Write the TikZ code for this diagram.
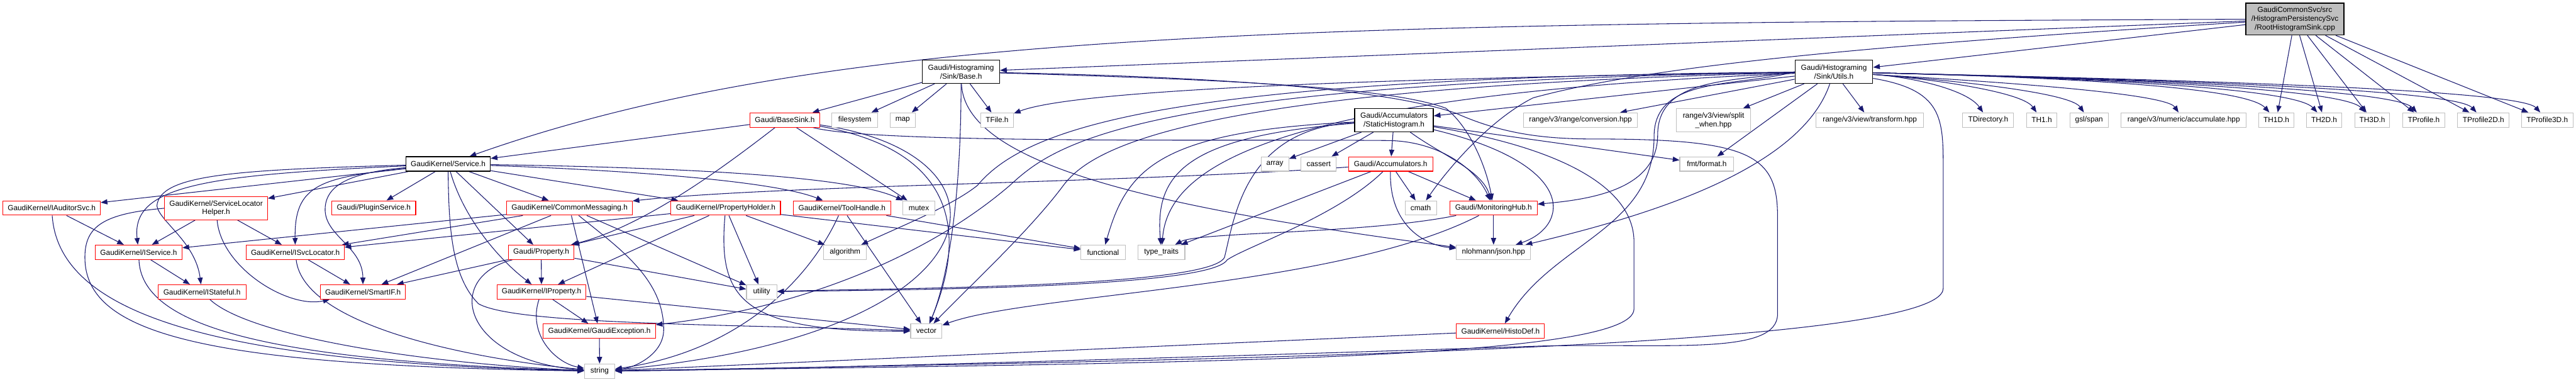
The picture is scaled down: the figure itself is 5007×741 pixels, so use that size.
\documentclass[tikz,border=0pt]{standalone}
\usepackage{fontspec}
\setmainfont{Liberation Sans}
\usetikzlibrary{arrows.meta}
\definecolor{edgec}{HTML}{191970}
\definecolor{grayb}{HTML}{BFBFBF}
\pgfdeclarelayer{bg}
\pgfsetlayers{bg,main}
\begin{document}
\begin{tikzpicture}[x=1pt,y=-1pt,
 nb/.style={draw, fill=white, inner sep=0pt, align=center, font=\fontsize{14.5}{17}\selectfont, minimum height=28pt},
 nblk/.style={nb, draw=black, line width=1.6pt},
 nred/.style={nb, draw=red, line width=1.3pt},
 ngray/.style={nb, draw=grayb, line width=1.3pt},
 nroot/.style={nb, draw=black, fill=grayb, line width=1.6pt},
 edg/.style={draw=edgec, line width=1.3pt, -{Triangle[length=13pt,width=10pt]}},
]
\useasboundingbox (0,0) rectangle (5007,741);
% row 1-2
\node[nroot, minimum width=191pt, minimum height=62pt] (root) at (4460.5,37) {GaudiCommonSvc/src\\/HistogramPersistencySvc\\/RootHistogramSink.cpp};
\node[nblk, minimum width=150pt, minimum height=45pt] (Base) at (1868,139.5) {Gaudi/Histograming\\/Sink/Base.h};
\node[nblk, minimum width=151pt, minimum height=45pt] (Utils) at (3564.5,139.5) {Gaudi/Histograming\\/Sink/Utils.h};
% row 3
\node[nred, minimum width=135pt] (BaseSink) at (1525.5,233) {Gaudi/BaseSink.h};
\node[ngray, minimum width=89pt] (filesystem) at (1661.5,233) {filesystem};
\node[ngray, minimum width=49pt] (map) at (1754.5,233) {map};
\node[ngray, minimum width=64pt] (TFile) at (1938,233) {TFile.h};
\node[nblk, minimum width=153pt, minimum height=45pt] (StaticHisto) at (2709.5,233.5) {Gaudi/Accumulators\\/StaticHistogram.h};
\node[ngray, minimum width=222pt] (conversion) at (3072,233) {range/v3/range/conversion.hpp};
\node[ngray, minimum width=145pt, minimum height=45pt] (splitwhen) at (3330.5,233.5) {range/v3/view/split\\\_when.hpp};
\node[ngray, minimum width=209pt] (transform) at (3634.5,233) {range/v3/view/transform.hpp};
\node[ngray, minimum width=99pt] (TDirectory) at (3864.5,233) {TDirectory.h};
\node[ngray, minimum width=59pt] (TH1) at (3968.5,233) {TH1.h};
\node[ngray, minimum width=75pt] (gslspan) at (4060.5,233) {gsl/span};
\node[ngray, minimum width=243pt] (accumulate) at (4244.5,233) {range/v3/numeric/accumulate.hpp};
\node[ngray, minimum width=69pt] (TH1D) at (4424.5,233) {TH1D.h};
\node[ngray, minimum width=69pt] (TH2D) at (4517.5,233) {TH2D.h};
\node[ngray, minimum width=68pt] (TH3D) at (4611,233) {TH3D.h};
\node[ngray, minimum width=82pt] (TProfile) at (4711,233) {TProfile.h};
\node[ngray, minimum width=100pt] (TProfile2D) at (4827,233) {TProfile2D.h};
\node[ngray, minimum width=100pt] (TProfile3D) at (4951,233) {TProfile3D.h};
% row 4
\node[nblk, minimum width=164pt] (Service) at (871,318.5) {GaudiKernel/Service.h};
\node[ngray, minimum width=54pt] (array) at (2478,318.5) {array};
\node[ngray, minimum width=68pt] (cassert) at (2563,318.5) {cassert};
\node[nred, minimum width=164pt] (Accum) at (2703,318.5) {Gaudi/Accumulators.h};
\node[ngray, minimum width=105pt] (fmt) at (3317.5,318.5) {fmt/format.h};
% row 5
\node[nred, minimum width=189pt] (IAuditorSvc) at (100.5,404) {GaudiKernel/IAuditorSvc.h};
\node[nred, minimum width=200pt, minimum height=45pt] (SLH) at (420,404.5) {GaudiKernel/ServiceLocator\\Helper.h};
\node[nred, minimum width=163pt] (PluginService) at (726.5,404) {Gaudi/PluginService.h};
\node[nred, minimum width=244pt] (CommonMsg) at (1107,404) {GaudiKernel/CommonMessaging.h};
\node[nred, minimum width=213pt] (PropHolder) at (1410.5,404) {GaudiKernel/PropertyHolder.h};
\node[nred, minimum width=189pt] (ToolHandle) at (1636.5,404) {GaudiKernel/ToolHandle.h};
\node[ngray, minimum width=62pt] (mutex) at (1786,404) {mutex};
\node[ngray, minimum width=61pt] (cmath) at (2761.5,404) {cmath};
\node[nred, minimum width=170pt] (MonHub) at (2903,404) {Gaudi/MonitoringHub.h};
% row 6
\node[nred, minimum width=169pt] (IService) at (269.5,490) {GaudiKernel/IService.h};
\node[nred, minimum width=190pt] (ISvcLocator) at (574,490) {GaudiKernel/ISvcLocator.h};
\node[nred, minimum width=128pt] (Property) at (1052,490) {Gaudi/Property.h};
\node[ngray, minimum width=83pt] (algorithm) at (1642.5,490) {algorithm};
\node[ngray, minimum width=86pt] (functional) at (2144,490) {functional};
\node[ngray, minimum width=91pt] (typetraits) at (2257.5,490) {type\_traits};
\node[ngray, minimum width=144pt] (json) at (2903,490) {nlohmann/json.hpp};
% row 7
\node[nred, minimum width=171pt] (IStateful) at (392.5,567) {GaudiKernel/IStateful.h};
\node[nred, minimum width=165pt] (SmartIF) at (705.5,567) {GaudiKernel/SmartIF.h};
\node[nred, minimum width=173pt] (IProperty) at (1052.5,567) {GaudiKernel/IProperty.h};
\node[ngray, minimum width=59pt] (utility) at (1480.5,567) {utility};
% row 8-9
\node[nred, minimum width=218pt] (GaudiExc) at (1165,643) {GaudiKernel/GaudiException.h};
\node[ngray, minimum width=61pt] (vector) at (1800.5,643) {vector};
\node[nred, minimum width=171pt] (HistoDef) at (2916.5,643) {GaudiKernel/HistoDef.h};
\node[ngray, minimum width=59pt] (string) at (1165.5,721) {string};

\begin{pgfonlayer}{bg}
% root
\draw[edg] (root) .. controls (2500,45) and (1600,60) .. (Service);
\draw[edg] (root) -- (Base);
\draw[edg] (root) -- (Utils);
\draw[edg] (root) .. controls (3600,90) and (3200,130) .. (2980,190) .. controls (2900,230) and (2820,320) .. (cmath);
\foreach \t/\tx in {TH1D/4424.5, TH2D/4517.5, TH3D/4611, TProfile/4711, TProfile2D/4827, TProfile3D/4951} {
  \draw[edg] (root) -- (\t);
  \draw[edg] (Utils) .. controls (4000,150) and ({\tx-60},168) .. (\t);
}
\foreach \t/\tx in {TDirectory/3864.5, TH1/3968.5, gslspan/4060.5, accumulate/4244.5}
  \draw[edg] (Utils) .. controls (3720,150) and ({\tx-40},175) .. (\t);
% Base.h
\draw[edg] (Base) -- (BaseSink);
\draw[edg] (Base) -- (filesystem);
\draw[edg] (Base) -- (map);
\draw[edg] (Base) -- (TFile);
\draw[edg] (Base) .. controls (1868,420) and (1835,560) .. (vector);
\draw[edg] (Base) .. controls (1875,330) and (2300,410) .. (json);
\draw[edg] (Base) .. controls (2400,155) and (2700,170) .. (2810,210) .. controls (2860,250) and (2890,330) .. (MonHub);
\draw[edg] (Base) .. controls (2400,150) and (2700,175) .. (2830,220) .. controls (2920,260) and (3000,270) .. (3100,270) .. controls (3400,270) and (3455,300) .. (3455,420) -- (3455,610) .. controls (3455,690) and (3250,667) .. (3000,672) .. controls (2300,695) and (1500,718) .. (string);
% Utils.h
\draw[edg] (Utils) -- (StaticHisto);
\draw[edg] (Utils) -- (conversion);
\draw[edg] (Utils) -- (splitwhen);
\draw[edg] (Utils) -- (transform);
\draw[edg] (Utils) -- (fmt);
\draw[edg] (Utils) .. controls (2800,150) and (2100,170) .. (TFile);
\draw[edg] (Utils) .. controls (3500,330) and (3200,420) .. (json);
\draw[edg] (Utils.west) to[out=190,in=90] (3222,262) to[out=-90,in=5] (MonHub);
\draw[edg] (Utils.west) to[out=195,in=90] (3215,265) to[out=-90,in=60] (HistoDef);
\draw[edg] (Utils) .. controls (2300,150) and (2000,240) .. (1900,360) .. controls (1850,400) and (1750,440) .. (algorithm);
\draw[edg] (Utils) .. controls (2200,160) and (2050,280) .. (1963,360) .. controls (1800,500) and (1550,600) .. (GaudiExc);
\draw[edg] (Utils) .. controls (2300,170) and (2120,290) .. (2067,360) .. controls (2000,450) and (1880,560) .. (vector);
\draw[edg] (Utils) .. controls (2450,185) and (2270,330) .. (typetraits);
\draw[edg] (Utils) .. controls (3777,175) and (3777,230) .. (3777,330) -- (3777,560) .. controls (3777,680) and (2300,700) .. (string);
% BaseSink.h
\draw[edg] (BaseSink) -- (Service);
\draw[edg] (BaseSink) .. controls (1400,330) and (1250,440) .. (Property);
\draw[edg] (BaseSink) -- (mutex);
\draw[edg] (BaseSink) .. controls (1700,280) and (2400,270) .. (2700,273) .. controls (2800,275) and (2870,330) .. (MonHub);
\draw[edg] (BaseSink) .. controls (1900,300) and (1860,500) .. (vector);
\draw[edg] (BaseSink) .. controls (2000,300) and (1950,650) .. (string);
% StaticHistogram.h
\draw[edg] (StaticHisto) -- (Accum);
\draw[edg] (StaticHisto) -- (array);
\draw[edg] (StaticHisto) -- (cassert);
\draw[edg] (StaticHisto) -- (fmt);
\draw[edg] (StaticHisto) .. controls (2800,300) and (2880,330) .. (MonHub);
\draw[edg] (StaticHisto) .. controls (3070,320) and (3050,440) .. (json);
\draw[edg] (StaticHisto) .. controls (2300,265) and (2245,340) .. (typetraits);
\draw[edg] (StaticHisto) .. controls (2250,255) and (2190,330) .. (functional);
\draw[edg] (StaticHisto) .. controls (2420,250) and (2400,420) .. (2380,500) .. controls (2350,560) and (1700,560) .. (utility);
\draw[edg] (StaticHisto) .. controls (3050,290) and (3176,370) .. (3176,470) -- (3176,600) .. controls (3176,700) and (2300,705) .. (string);
% Accumulators.h
\draw[edg] (Accum) -- (cmath);
\draw[edg] (Accum) -- (MonHub);
\draw[edg] (Accum) .. controls (2700,430) and (2760,475) .. (json);
\draw[edg] (Accum) -- (typetraits);
\draw[edg] (Accum) .. controls (2200,355) and (1500,360) .. (CommonMsg);
\draw[edg] (Accum) .. controls (2600,420) and (2420,480) .. (2385,505) .. controls (2350,562) and (1700,563) .. (utility);
% MonitoringHub.h, HistoDef.h
\draw[edg] (MonHub) -- (json);
\draw[edg] (MonHub) .. controls (2650,455) and (2330,450) .. (typetraits);
\draw[edg] (MonHub) .. controls (2600,560) and (2000,570) .. (vector);
\draw[edg] (HistoDef) -- (string);
% Service.h
\draw[edg] (Service) -- (IAuditorSvc);
\draw[edg] (Service) -- (SLH);
\draw[edg] (Service) -- (PluginService);
\draw[edg] (Service) -- (CommonMsg);
\draw[edg] (Service) -- (PropHolder);
\draw[edg] (Service) .. controls (1200,330) and (1500,350) .. (ToolHandle);
\draw[edg] (Service) .. controls (1300,325) and (1650,340) .. (mutex);
\draw[edg] (Service) -- (Property);
\draw[edg] (Service) .. controls (900,420) and (965,500) .. (IProperty);
\draw[edg] (Service) .. controls (400,340) and (255,360) .. (IService);
\draw[edg] (Service) .. controls (450,330) and (310,340) .. (305,400) .. controls (310,430) and (380,470) .. (IStateful);
\draw[edg] (Service) .. controls (620,345) and (572,360) .. (ISvcLocator);
\draw[edg] (Service) .. controls (680,335) and (630,360) .. (632,410) .. controls (635,460) and (705,480) .. (SmartIF);
\draw[edg] (Service) .. controls (872,450) and (880,540) .. (930,590) .. controls (1000,630) and (1400,630) .. (vector);
% lower left cluster
\draw[edg] (IAuditorSvc) -- (IService);
\draw[edg] (IAuditorSvc) .. controls (115,620) and (450,705) .. (string);
\draw[edg] (SLH) -- (IService);
\draw[edg] (SLH) -- (ISvcLocator);
\draw[edg] (SLH) .. controls (430,520) and (560,600) .. (SmartIF);
\draw[edg] (SLH.west) .. controls (200,415) and (165,440) .. (165,500) .. controls (165,650) and (400,710) .. (string);
\draw[edg] (IService) -- (IStateful);
\draw[edg] (IService) .. controls (275,630) and (500,700) .. (string);
\draw[edg] (ISvcLocator) -- (SmartIF);
\draw[edg] (ISvcLocator) .. controls (590,630) and (900,695) .. (string);
\draw[edg] (IStateful) .. controls (480,650) and (800,705) .. (string);
\draw[edg] (CommonMsg) -- (IService);
\draw[edg] (CommonMsg) -- (ISvcLocator);
\draw[edg] (CommonMsg) -- (SmartIF);
\draw[edg] (CommonMsg) -- (GaudiExc);
\draw[edg] (CommonMsg) -- (utility);
\draw[edg] (CommonMsg) .. controls (1200,480) and (1290,540) .. (1290,640) .. controls (1290,690) and (1230,715) .. (string);
\draw[edg] (PropHolder) -- (ISvcLocator);
\draw[edg] (PropHolder) -- (Property);
\draw[edg] (PropHolder) -- (IProperty);
\draw[edg] (PropHolder) -- (utility);
\draw[edg] (PropHolder) -- (algorithm);
\draw[edg] (PropHolder) -- (functional);
\draw[edg] (PropHolder) .. controls (1395,580) and (1440,645) .. (vector);
\draw[edg] (ToolHandle) -- (functional);
\draw[edg] (ToolHandle) -- (vector);
\draw[edg] (ToolHandle) .. controls (1580,530) and (1450,680) .. (string);
\draw[edg] (Property) -- (IProperty);
\draw[edg] (Property) -- (SmartIF);
\draw[edg] (Property) -- (utility);
\draw[edg] (Property) .. controls (860,540) and (900,700) .. (string);
\draw[edg] (IProperty) -- (GaudiExc);
\draw[edg] (IProperty) -- (vector);
\draw[edg] (IProperty) .. controls (1025,650) and (1080,705) .. (string);
\draw[edg] (GaudiExc) -- (string);
\end{pgfonlayer}
\end{tikzpicture}
\end{document}
